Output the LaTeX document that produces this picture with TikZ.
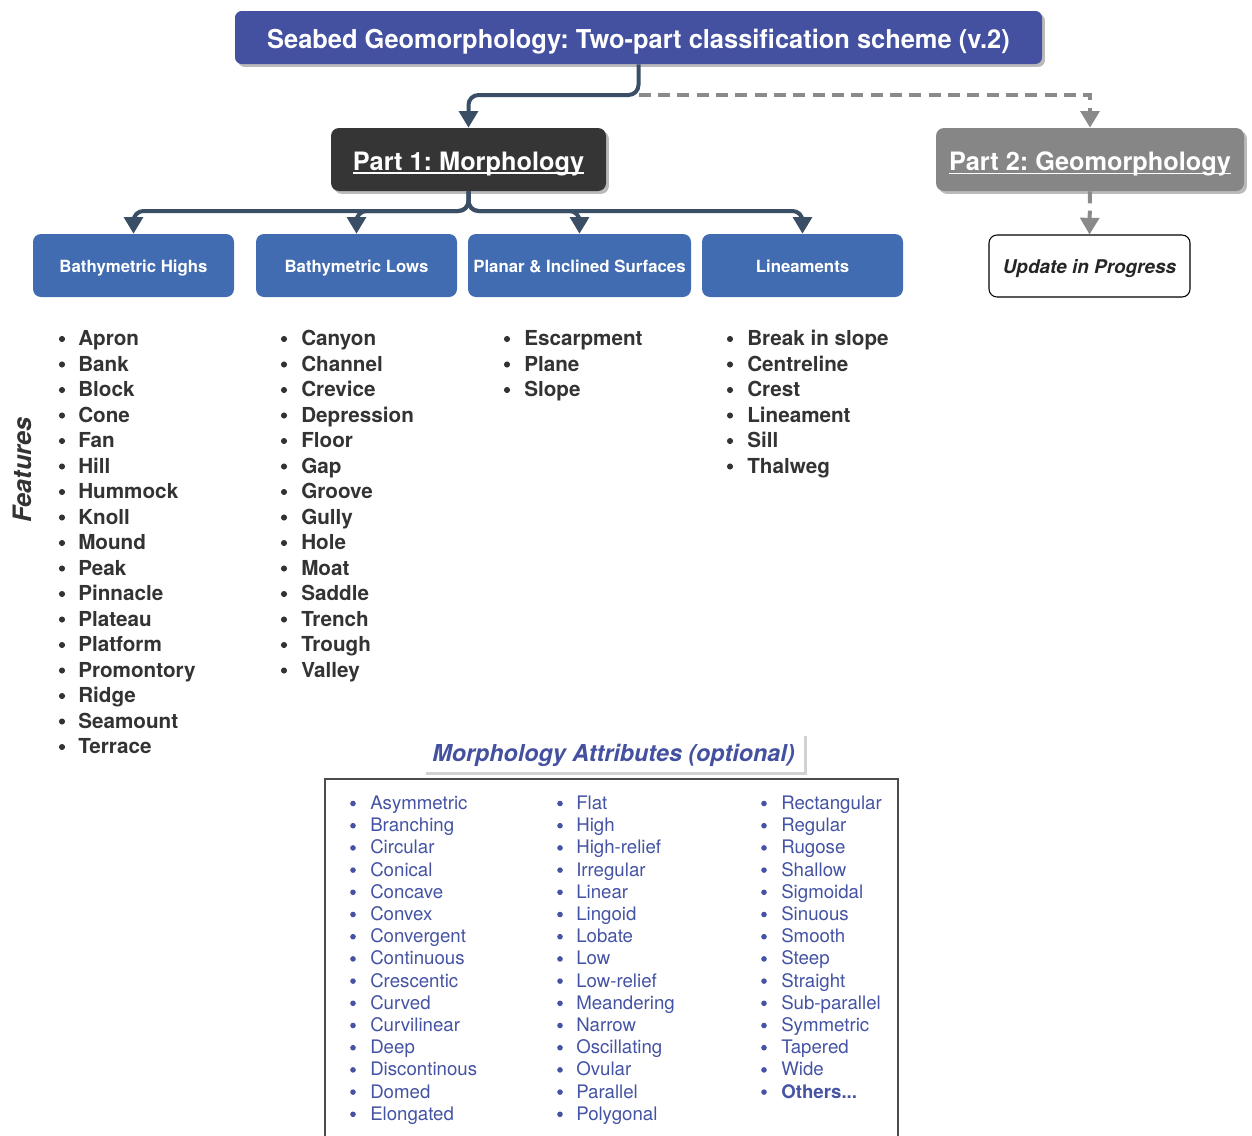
\documentclass[tikz,border=0pt]{standalone}
\usepackage{fontspec}
\setmainfont{TeX Gyre Heros}
\usetikzlibrary{arrows.meta,shadows}
\definecolor{titleblue}{HTML}{4450A0}
\definecolor{partdark}{HTML}{353535}
\definecolor{partgray}{HTML}{868686}
\definecolor{catblue}{HTML}{416CB1}
\definecolor{conn}{HTML}{3A4F66}
\definecolor{dashgray}{HTML}{8A8A8A}
\definecolor{listtext}{HTML}{333333}
\definecolor{attrblue}{HTML}{4453A3}
\newcommand{\myul}[1]{\setbox0\hbox{#1}\rlap{\rule[-3pt]{\wd0}{1.3pt}}#1}
\frenchspacing
\begin{document}
\begin{tikzpicture}[x=0.75pt,y=-0.75pt,
  shad/.style={drop shadow={shadow xshift=2.2pt,shadow yshift=-2.2pt,fill=black!45,opacity=0.6}},
  titlebox/.style={fill=titleblue,rounded corners=5pt,shad,text=white,inner sep=0pt,
    minimum width=605.25pt,minimum height=39.75pt,text depth=0pt},
  partbox/.style={rounded corners=6pt,shad,text=white,inner sep=0pt,minimum height=47.25pt,
    font=\fontsize{19}{22}\selectfont\bfseries,text depth=0pt},
  catbox/.style={fill=catblue,rounded corners=6pt,text=white,inner sep=0pt,minimum height=47.25pt,
    minimum width=150.75pt,font=\fontsize{12.6}{14}\selectfont\bfseries,text depth=0pt},
  conn/.style={draw=conn,line width=3pt,rounded corners=7.5pt,-{Triangle[width=14pt,length=12.5pt]}},
  dconn/.style={draw=dashgray,line width=3pt,dash pattern=on 9pt off 5.5pt,-{Triangle[width=14pt,length=12.5pt]}},
  item/.style={anchor=base west,inner sep=0pt,text=listtext,font=\fontsize{15.5}{18}\selectfont\bfseries},
  attr/.style={anchor=base west,inner sep=0pt,text=attrblue,font=\fontsize{14}{16}\selectfont},
]
\useasboundingbox (0,0) rectangle (1252,1135);

% top nodes
\node[titlebox] (title) at (638.5,37.5)
  {\raisebox{-1.5pt}{\resizebox{557pt}{\height}{\fontsize{19.5}{22}\selectfont\bfseries Seabed Geomorphology: Two-part classification scheme (v.2)}}};
\node[partbox,fill=partdark,minimum width=206.25pt] (p1) at (468.5,159.5) {\raisebox{-2.2pt}{\myul{Part 1: Morphology}}};
\node[partbox,fill=partgray,minimum width=231pt] (p2) at (1090,159.5) {\raisebox{-2.2pt}{\myul{Part 2: Geomorphology}}};
\node[draw=black,line width=0.8pt,fill=white,rounded corners=6pt,inner sep=0pt,minimum width=150.75pt,
  minimum height=46.5pt,text depth=0pt,font=\fontsize{14.2}{16}\selectfont\bfseries\itshape,text=black!85] (upd) at (1089.5,266) {\raisebox{-0.6pt}{Update in Progress}};

% categories
\node[catbox] (bh) at (133.5,265.5) {\raisebox{-1.1pt}{Bathymetric Highs}};
\node[catbox] (bl) at (356.5,265.5) {\raisebox{-1.1pt}{Bathymetric Lows}};
\node[catbox,minimum width=167.25pt] (pl) at (579.5,265.5) {\raisebox{-1.1pt}{Planar \& Inclined Surfaces}};
\node[catbox] (li) at (802.5,265.5) {\raisebox{-1.1pt}{Lineaments}};

% connectors
\coordinate (tj) at (638.5,95);
\coordinate (pj) at (468.5,211);
\draw[conn] (title.south) -- (tj) -| (p1.north);
\draw[dconn] (tj) -| (p2.north);
\draw[dconn] (p2.south) -- (upd.north);
\draw[conn] (p1.south) -- (pj) -| (bh.north);
\draw[conn] (p1.south) -- (pj) -| (bl.north);
\draw[conn] (p1.south) -- (pj) -| (pl.north);
\draw[conn] (p1.south) -- (pj) -| (li.north);

% features label
\node[rotate=90,text=listtext,font=\fontsize{19}{22}\selectfont\bfseries\itshape] (feat) at (22,470) {Features};

% feature lists
\foreach \t [count=\i] in {Apron,Bank,Block,Cone,Fan,Hill,Hummock,Knoll,Mound,Peak,Pinnacle,Plateau,Platform,Promontory,Ridge,Seamount,Terrace}{
  \node[item] (hi\i) at (78,{345.5+25.5*(\i-1)}) {\t};
  \fill[listtext] (62,{339+25.5*(\i-1)}) circle (2.3pt);
}
\foreach \t [count=\i] in {Canyon,Channel,Crevice,Depression,Floor,Gap,Groove,Gully,Hole,Moat,Saddle,Trench,Trough,Valley}{
  \node[item] (lo\i) at (301,{345.5+25.5*(\i-1)}) {\t};
  \fill[listtext] (284,{339+25.5*(\i-1)}) circle (2.3pt);
}
\foreach \t [count=\i] in {Escarpment,Plane,Slope}{
  \node[item] (pi\i) at (524,{345.5+25.5*(\i-1)}) {\t};
  \fill[listtext] (507,{339+25.5*(\i-1)}) circle (2.3pt);
}
\foreach \t [count=\i] in {Break in slope,Centreline,Crest,Lineament,Sill,Thalweg}{
  \node[item] (ln\i) at (747,{345.5+25.5*(\i-1)}) {\t};
  \fill[listtext] (730,{339+25.5*(\i-1)}) circle (2.3pt);
}

% attributes
\node[fill=white,drop shadow={shadow xshift=2.2pt,shadow yshift=-2.2pt,fill=black!25,opacity=0.7},
  inner sep=0pt,minimum width=285.75pt,minimum height=29.25pt,text depth=0pt,
  text=titleblue,font=\fontsize{17.5}{20}\selectfont\bfseries\itshape] (attrlab) at (613.5,752.5) {Morphology Attributes (optional)};
\coordinate (fbl) at (325,1140);
\coordinate (ftl) at (325,779);
\coordinate (ftr) at (898,779);
\coordinate (fbr) at (898,1140);
\draw[black!70,line width=1.1pt] (fbl) -- (ftl) -- (ftr) -- (fbr);

\foreach \t [count=\i] in {Asymmetric,Branching,Circular,Conical,Concave,Convex,Convergent,Continuous,Crescentic,Curved,Curvilinear,Deep,Discontinous,Domed,Elongated}{
  \node[attr] (a\i) at (370,{809.5+22.2*(\i-1)}) {\t};
  \fill[attrblue] (353,{803.5+22.2*(\i-1)}) circle (2.1pt);
}
\foreach \t [count=\i] in {Flat,High,High-relief,Irregular,Linear,Lingoid,Lobate,Low,Low-relief,Meandering,Narrow,Oscillating,Ovular,Parallel,Polygonal}{
  \node[attr] (b\i) at (576,{809.5+22.2*(\i-1)}) {\t};
  \fill[attrblue] (560,{803.5+22.2*(\i-1)}) circle (2.1pt);
}
\foreach \t [count=\i] in {Rectangular,Regular,Rugose,Shallow,Sigmoidal,Sinuous,Smooth,Steep,Straight,Sub-parallel,Symmetric,Tapered,Wide}{
  \node[attr] (c\i) at (781,{809.5+22.2*(\i-1)}) {\t};
  \fill[attrblue] (764,{803.5+22.2*(\i-1)}) circle (2.1pt);
}
\node[attr,font=\fontsize{14}{16}\selectfont\bfseries] (c14) at (781,{809.5+22.2*13}) {Others...};
\fill[attrblue] (764,{803.5+22.2*13}) circle (2.1pt);
\end{tikzpicture}
\end{document}
